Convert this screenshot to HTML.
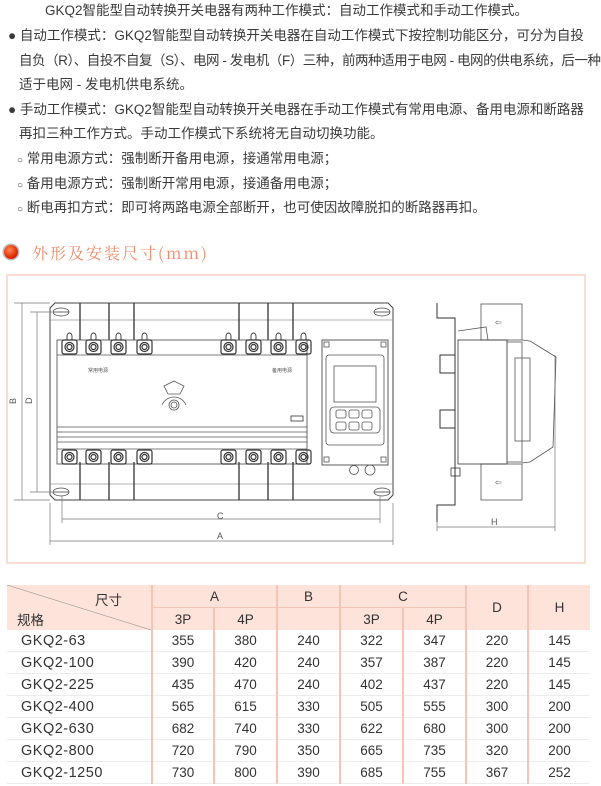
<!DOCTYPE html>
<html><head><meta charset="utf-8"><style>
body{margin:0;width:601px;height:786px;background:#fff;position:relative;overflow:hidden;font-family:"Liberation Sans","Noto Sans CJK SC",sans-serif;color:#333}
.t{position:absolute;font-size:13.5px;white-space:nowrap;line-height:16px;color:#3a3a3a}
table{position:absolute;left:7px;top:585px;border-collapse:collapse;font-size:13.5px;color:#333}
td{height:21px;padding:0;text-align:center;border-bottom:1px solid #ececec}
.h td{background:#fde3da;border-bottom:none}
.v{border-left:2px solid #f5c4b4}
.n{text-align:left;padding-left:14px;font-size:14.5px;letter-spacing:0.5px}
</style></head><body>
<div class="t" style="left:45px;top:3px">GKQ2智能型自动转换开关电器有两种工作模式：自动工作模式和手动工作模式。</div>
<div class="t" style="left:8px;top:28px">●&nbsp;自动工作模式：GKQ2智能型自动转换开关电器在自动工作模式下按控制功能区分，可分为自投</div>
<div class="t" style="left:19px;top:53px;letter-spacing:-0.45px">自负（R）、自投不自复（S）、电网 - 发电机（F）三种，前两种适用于电网 - 电网的供电系统，后一种</div>
<div class="t" style="left:19px;top:77px">适于电网 - 发电机供电系统。</div>
<div class="t" style="left:8px;top:102px">●&nbsp;手动工作模式：GKQ2智能型自动转换开关电器在手动工作模式有常用电源、备用电源和断路器</div>
<div class="t" style="left:19px;top:126px">再扣三种工作方式。手动工作模式下系统将无自动切换功能。</div>
<div class="t" style="left:17px;top:151px"><span style="font-size:10px">○</span> 常用电源方式：强制断开备用电源，接通常用电源；</div>
<div class="t" style="left:17px;top:176px"><span style="font-size:10px">○</span> 备用电源方式：强制断开常用电源，接通备用电源；</div>
<div class="t" style="left:17px;top:200px"><span style="font-size:10px">○</span> 断电再扣方式：即可将两路电源全部断开，也可使因故障脱扣的断路器再扣。</div>
<div style="position:absolute;left:4px;top:245px;width:14px;height:14px;border-radius:50%;background:radial-gradient(circle at 40% 35%,#ff8a5a,#e02a00 60%,#a01000);box-shadow:0 0 0 1.5px #bbb"></div>
<div class="t" style="left:32px;top:243px;font-size:16px;line-height:20px;color:#f08a6a;letter-spacing:2px;font-family:'Noto Serif CJK SC','Liberation Serif',serif">外形及安装尺寸(mm)</div>
<svg style="position:absolute;left:0;top:0" width="601" height="586" fill="none" stroke="#555" stroke-width="0.8" font-family="Liberation Sans" font-size="9">
<rect x="7" y="275" width="578" height="288" stroke="#f9d2c4" stroke-width="1.5"/>
<path d="M55 303 H388 L393 308 V495 L388 500 H55 L50 495 V308 Z" stroke="#444" stroke-width="1"/>
<line x1="50" y1="320" x2="393" y2="320" stroke="#999"/><line x1="50" y1="484" x2="393" y2="484" stroke="#999"/>
<g stroke="#444"><ellipse cx="61" cy="312" rx="8" ry="4"/><ellipse cx="382" cy="312" rx="8" ry="4"/><ellipse cx="61" cy="492" rx="8" ry="4"/><ellipse cx="382" cy="492" rx="8" ry="4"/>
<line x1="53" y1="312" x2="69" y2="312"/><line x1="374" y1="312" x2="390" y2="312"/><line x1="53" y1="492" x2="69" y2="492"/><line x1="374" y1="492" x2="390" y2="492"/></g>
<g stroke="#333" stroke-width="1.3">
<line x1="80" y1="303" x2="80" y2="340"/><line x1="109" y1="303" x2="109" y2="340"/><line x1="134" y1="303" x2="134" y2="340"/>
<line x1="239" y1="303" x2="239" y2="340"/><line x1="268" y1="303" x2="268" y2="340"/><line x1="293" y1="303" x2="293" y2="340"/>
<line x1="80" y1="462" x2="80" y2="500"/><line x1="109" y1="462" x2="109" y2="500"/><line x1="134" y1="462" x2="134" y2="500"/>
<line x1="239" y1="462" x2="239" y2="500"/><line x1="268" y1="462" x2="268" y2="500"/><line x1="293" y1="462" x2="293" y2="500"/></g>
<rect x="57" y="340" width="250" height="124" stroke="#444"/>
<line x1="57" y1="355" x2="307" y2="355"/><line x1="57" y1="427" x2="307" y2="427"/><line x1="57" y1="432" x2="307" y2="432"/><line x1="57" y1="437" x2="307" y2="437"/><line x1="57" y1="442" x2="307" y2="442"/><line x1="57" y1="449" x2="307" y2="449"/>
<g stroke="#333" stroke-width="1.2">
<g id="tm"><rect x="62" y="340" width="15" height="14" rx="2"/><circle cx="69.5" cy="347" r="4.5"/><circle cx="69.5" cy="347" r="2.5"/><path d="M67 336 a2.5 3 0 1 1 5 0 v4 h-5z" stroke-width="0.9"/></g>
<use href="#tm" x="24"/><use href="#tm" x="49"/><use href="#tm" x="75"/><use href="#tm" x="159"/><use href="#tm" x="184"/><use href="#tm" x="209"/><use href="#tm" x="234"/>
<g id="bm"><rect x="62" y="450" width="15" height="14" rx="2"/><circle cx="69.5" cy="457" r="4.5"/><circle cx="69.5" cy="457" r="2.5"/></g>
<use href="#bm" x="24"/><use href="#bm" x="49"/><use href="#bm" x="75"/><use href="#bm" x="159"/><use href="#bm" x="184"/><use href="#bm" x="209"/><use href="#bm" x="234"/></g>
<text x="88" y="372" font-size="5" fill="#555" stroke="none">常用电源</text><text x="272" y="372" font-size="5" fill="#555" stroke="none">备用电源</text>
<path d="M164 386 L174 381 L184 386 L180 394 L168 394 Z"/><circle cx="174" cy="405" r="5"/><circle cx="174" cy="405" r="3"/>
<path d="M162 405 A13 13 0 0 1 186 405"/>
<rect x="291" y="416" width="12" height="5" stroke="#333"/>
<rect x="322" y="340" width="66" height="125" stroke="#333"/>
<rect x="326" y="355" width="58" height="90" rx="3"/><rect x="334" y="366" width="42" height="36"/>
<rect x="330" y="407" width="50" height="26" rx="4"/>
<g><rect x="336" y="410" width="10" height="8" rx="2"/><rect x="349" y="410" width="10" height="8" rx="2"/><rect x="362" y="410" width="10" height="8" rx="2"/><rect x="336" y="422" width="10" height="8" rx="2"/><rect x="349" y="422" width="10" height="8" rx="2"/><rect x="362" y="422" width="10" height="8" rx="2"/></g>
<rect x="324" y="342" width="5" height="5"/><rect x="381" y="342" width="5" height="5"/><rect x="324" y="457" width="5" height="5"/><rect x="381" y="457" width="5" height="5"/>
<circle cx="354" cy="470" r="4.5"/><circle cx="370" cy="470" r="5"/>
<g stroke="#777" stroke-width="0.7">
<line x1="22" y1="303" x2="22" y2="500"/><line x1="14" y1="303" x2="50" y2="303"/><line x1="14" y1="500" x2="50" y2="500"/>
<line x1="37" y1="312" x2="37" y2="492"/><line x1="30" y1="312" x2="52" y2="312"/><line x1="30" y1="492" x2="52" y2="492"/>
<line x1="62" y1="519" x2="380" y2="519"/><line x1="62" y1="496" x2="62" y2="523"/><line x1="380" y1="496" x2="380" y2="523"/>
<line x1="50" y1="541" x2="393" y2="541"/><line x1="50" y1="503" x2="50" y2="545"/><line x1="393" y1="503" x2="393" y2="545"/>
<line x1="437" y1="527" x2="555" y2="527"/><line x1="437" y1="507" x2="437" y2="531"/><line x1="555" y1="355" x2="555" y2="531"/></g>
<g fill="#555" stroke="none" font-size="9"><text x="10" y="404" transform="rotate(-90 13 401)">B</text><text x="26" y="404" transform="rotate(-90 29 401)">D</text><text x="217" y="519">C</text><text x="217" y="539">A</text><text x="491" y="525">H</text></g>
<path d="M437 303 V318 H455 V505 H437 V522" stroke="#333" stroke-width="1"/>
<rect x="481" y="304" width="41" height="36"/><rect x="481" y="464" width="41" height="36"/>
<text x="495" y="325" fill="#555" stroke="none" font-size="8">⇦</text><text x="495" y="485" fill="#555" stroke="none" font-size="8">⇦</text>
<rect x="458" y="340" width="49" height="124" stroke="#333"/><rect x="507" y="342" width="15" height="120"/>
<path d="M522 340 L530 341 L556 357 L553 447 L530 462 L522 463"/>
<rect x="515" y="358" width="15" height="83"/>
<path d="M458 331 L486 327 L488 340"/>
<rect x="440" y="355" width="15" height="18" stroke="#333" stroke-width="1"/><rect x="440" y="410" width="15" height="18" stroke="#333" stroke-width="1"/>
<rect x="451" y="468" width="9" height="8" stroke="#333"/>
</svg>
<table>
<colgroup><col style="width:145px"><col style="width:62px"><col style="width:63px"><col style="width:63px"><col style="width:63px"><col style="width:63px"><col style="width:62px"><col style="width:62px"></colgroup>
<tr class="h"><td rowspan="2" style="position:relative;height:45px;text-align:left;background:#fde3da linear-gradient(to top right,transparent 49.4%,#888 50%,transparent 50.6%) no-repeat"><span style="position:absolute;left:88px;top:4px">尺寸</span><span style="position:absolute;left:10px;top:24px">规格</span></td>
<td colspan="2" class="v" style="height:20px;border-bottom:1px solid #f5c4b4">A</td><td class="v" style="height:20px;border-bottom:1px solid #f5c4b4">B</td><td colspan="2" class="v" style="border-bottom:1px solid #f5c4b4">C</td><td rowspan="2" class="v">D</td><td rowspan="2" class="v">H</td></tr>
<tr class="h"><td class="v">3P</td><td class="v">4P</td><td class="v"></td><td class="v">3P</td><td class="v">4P</td></tr>
<tr><td class="n">GKQ2-63</td><td class="v">355</td><td class="v">380</td><td class="v">240</td><td class="v">322</td><td class="v">347</td><td class="v">220</td><td class="v">145</td></tr>
<tr><td class="n">GKQ2-100</td><td class="v">390</td><td class="v">420</td><td class="v">240</td><td class="v">357</td><td class="v">387</td><td class="v">220</td><td class="v">145</td></tr>
<tr><td class="n">GKQ2-225</td><td class="v">435</td><td class="v">470</td><td class="v">240</td><td class="v">402</td><td class="v">437</td><td class="v">220</td><td class="v">145</td></tr>
<tr><td class="n">GKQ2-400</td><td class="v">565</td><td class="v">615</td><td class="v">330</td><td class="v">505</td><td class="v">555</td><td class="v">300</td><td class="v">200</td></tr>
<tr><td class="n">GKQ2-630</td><td class="v">682</td><td class="v">740</td><td class="v">330</td><td class="v">622</td><td class="v">680</td><td class="v">300</td><td class="v">200</td></tr>
<tr><td class="n">GKQ2-800</td><td class="v">720</td><td class="v">790</td><td class="v">350</td><td class="v">665</td><td class="v">735</td><td class="v">320</td><td class="v">200</td></tr>
<tr><td class="n">GKQ2-1250</td><td class="v">730</td><td class="v">800</td><td class="v">390</td><td class="v">685</td><td class="v">755</td><td class="v">367</td><td class="v">252</td></tr>
</table>
</body></html>
